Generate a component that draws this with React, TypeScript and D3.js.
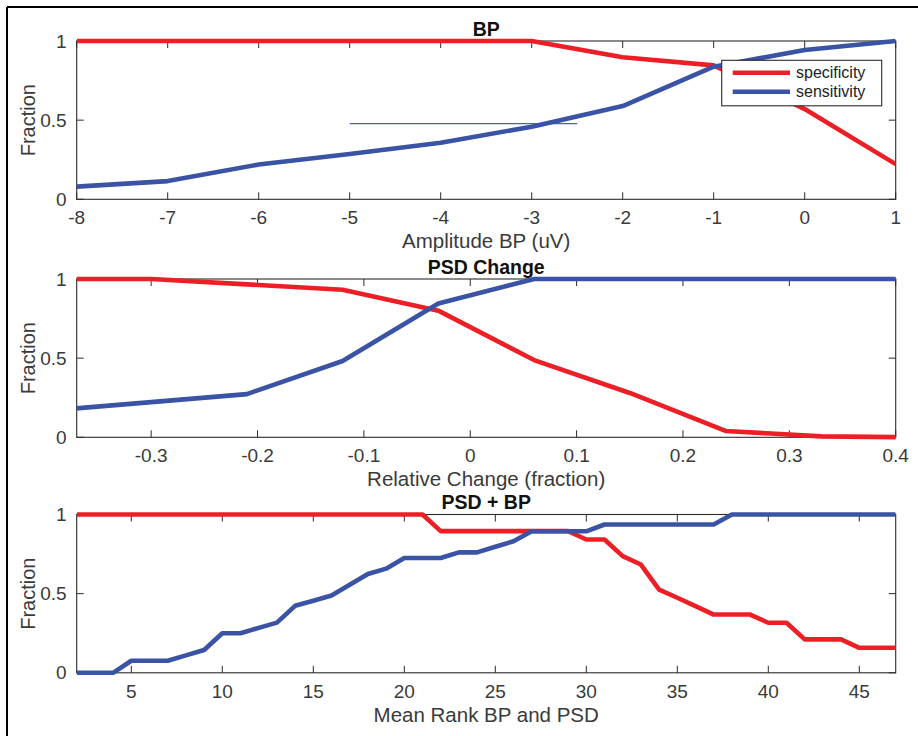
import * as d3 from "d3";

const RED = "#ED1F26";
const BLUE = "#3A53A4";
const AXIS = "#2b2b2b";
const FONT = "'Liberation Sans', Arial, sans-serif";

// BP panel
const bpX = [-8, -7, -6, -5, -4, -3, -2, -1, 0, 1];
const bpSpecificity = [1, 1, 1, 1, 1, 1, 0.897, 0.846, 0.57, 0.222];
const bpSensitivity = [0.08, 0.115, 0.22, 0.286, 0.357, 0.459, 0.589, 0.838, 0.943, 1];
const bpRefX = [-5, -2.5];
const bpRefY = [0.478, 0.478];
const bpTicks = [-8, -7, -6, -5, -4, -3, -2, -1, 0, 1];

// PSD change panel
const psdX = [-0.39, -0.3, -0.21, -0.12, -0.03, 0.06, 0.15, 0.24, 0.33, 0.42];
const psdSpecificity = [1, 1, 0.966, 0.932, 0.8, 0.488, 0.28, 0.04, 0.006, 0];
const psdSensitivity = [0.172, 0.222, 0.273, 0.482, 0.845, 1, 1, 1, 1, 1];
const psdTicks = [-0.3, -0.2, -0.1, 0, 0.1, 0.2, 0.3, 0.4];

// PSD + BP panel
const rankX = [
  2, 3, 4, 5, 6, 7, 8, 9, 10, 11, 12, 13, 14, 15, 16, 17, 18, 19, 20, 21, 22, 23, 24,
  25, 26, 27, 28, 29, 30, 31, 32, 33, 34, 35, 36, 37, 38, 39, 40, 41, 42, 43, 44, 45,
  46, 47,
];
const rankSpecificity = [
  1, 1, 1, 1, 1, 1, 1, 1, 1, 1, 1, 1, 1, 1, 1, 1, 1, 1, 1, 1,
  0.895, 0.895, 0.895, 0.895, 0.895, 0.895, 0.895, 0.895,
  0.842, 0.842, 0.737, 0.684, 0.526, 0.474, 0.421, 0.368, 0.368, 0.368,
  0.316, 0.316, 0.211, 0.211, 0.211, 0.158, 0.158, 0.158,
];
const rankSensitivity = [
  0, 0, 0, 0.076, 0.076, 0.076, 0.11, 0.144, 0.25, 0.25, 0.284, 0.317, 0.423, 0.455,
  0.488, 0.556, 0.624, 0.658, 0.725, 0.725, 0.725, 0.761, 0.761, 0.796, 0.831, 0.894,
  0.894, 0.894, 0.894, 0.937, 0.937, 0.937, 0.937, 0.937, 0.937, 0.937,
  1, 1, 1, 1, 1, 1, 1, 1, 1, 1,
];
const rankTicks = [5, 10, 15, 20, 25, 30, 35, 40, 45];

const yTicks = [0, 0.5, 1];
const seriesNames = ["specificity", "sensitivity"];

const left = 76.7;
const right = 895.7;
const plotH = 158.3;

type PanelProps = {
  id: string;
  top: number;
  title: string;
  xLabel: string;
  domain: [number, number];
  ticks: number[];
  xs: number[];
  spec: number[];
  sens: number[];
  children?: (x: d3.ScaleLinear<number, number>, y: d3.ScaleLinear<number, number>) => any;
};

function Panel({ id, top, title, xLabel, domain, ticks, xs, spec, sens, children }: PanelProps) {
  const x = d3.scaleLinear().domain(domain).range([left, right]);
  const y = d3.scaleLinear().domain([0, 1]).range([top + plotH, top]);
  const bottom = top + plotH;
  const line = (vals: number[]) =>
    d3
      .line<number>()
      .x((_, i) => x(xs[i]))
      .y((d) => y(d))(vals) || "";
  return (
    <g>
      <defs>
        <clipPath id={id}>
          <rect x={left} y={top - 20} width={right - left} height={plotH + 40} />
        </clipPath>
      </defs>
      <rect x={left} y={top} width={right - left} height={plotH} fill="none" stroke={AXIS} strokeWidth={1.1} />
      {ticks.map((t) => (
        <g key={t}>
          <line x1={x(t)} x2={x(t)} y1={bottom} y2={bottom - 7} stroke={AXIS} />
          <line x1={x(t)} x2={x(t)} y1={top} y2={top + 7} stroke={AXIS} />
          <text x={x(t)} y={bottom + 25} textAnchor="middle" fontSize={19} fill="#3a3a3a">
            {String(t)}
          </text>
        </g>
      ))}
      {yTicks.map((t) => (
        <g key={t}>
          <line x1={left} x2={left + 7} y1={y(t)} y2={y(t)} stroke={AXIS} />
          <line x1={right} x2={right - 7} y1={y(t)} y2={y(t)} stroke={AXIS} />
          <text x={left - 10} y={y(t)} dy="0.35em" textAnchor="end" fontSize={19} fill="#3a3a3a">
            {t}
          </text>
        </g>
      ))}
      <text x={(left + right) / 2} y={top - 5.5} textAnchor="middle" fontSize={19.5} fontWeight="bold" fill="#111">
        {title}
      </text>
      <text x={(left + right) / 2} y={bottom + 49} textAnchor="middle" fontSize={20.5} fill="#3a3a3a">
        {xLabel}
      </text>
      <text
        transform={`translate(35,${top + plotH / 2}) rotate(-90)`}
        textAnchor="middle"
        fontSize={20}
        fill="#3a3a3a"
      >
        Fraction
      </text>
      <g clipPath={`url(#${id})`} fill="none" strokeWidth={4.6} strokeLinejoin="round">
        {children && children(x, y)}
        <path d={line(spec)} stroke={RED} />
        <path d={line(sens)} stroke={BLUE} />
      </g>
    </g>
  );
}

export default function App() {
  return (
    <svg
      width={918}
      height={736}
      style={{ position: "absolute", left: 0, top: 0, background: "#fff", fontFamily: FONT }}
    >
      <line x1={7} x2={918} y1={7} y2={7} stroke="#000" strokeWidth={2} />
      <line x1={7} x2={7} y1={7} y2={736} stroke="#000" strokeWidth={2} />

      <Panel
        id="clip-bp"
        top={41}
        title="BP"
        xLabel="Amplitude BP (uV)"
        domain={[-8, 1]}
        ticks={bpTicks}
        xs={bpX}
        spec={bpSpecificity}
        sens={bpSensitivity}
      >
        {(x, y) => (
          <line
            x1={x(bpRefX[0])}
            x2={x(bpRefX[1])}
            y1={y(bpRefY[0])}
            y2={y(bpRefY[1])}
            stroke="#4a62b0"
            strokeWidth={1.2}
          />
        )}
      </Panel>

      {/* legend */}
      <g>
        <rect x={721.7} y={60.3} width={160} height={45.5} fill="#fff" stroke={AXIS} strokeWidth={1.1} />
        {seriesNames.map((name, i) => (
          <g key={name}>
            <line
              x1={732.7}
              x2={790}
              y1={72.7 + i * 19}
              y2={72.7 + i * 19}
              stroke={i === 0 ? RED : BLUE}
              strokeWidth={4.6}
            />
            <text x={796} y={72.7 + i * 19} dy="0.35em" fontSize={16} fill="#222">
              {name}
            </text>
          </g>
        ))}
      </g>

      <Panel
        id="clip-psd"
        top={279}
        title="PSD Change"
        xLabel="Relative Change (fraction)"
        domain={[-0.37, 0.4]}
        ticks={psdTicks}
        xs={psdX}
        spec={psdSpecificity}
        sens={psdSensitivity}
      />

      <Panel
        id="clip-rank"
        top={514.5}
        title="PSD + BP"
        xLabel="Mean Rank BP and PSD"
        domain={[2, 47]}
        ticks={rankTicks}
        xs={rankX}
        spec={rankSpecificity}
        sens={rankSensitivity}
      />
    </svg>
  );
}
